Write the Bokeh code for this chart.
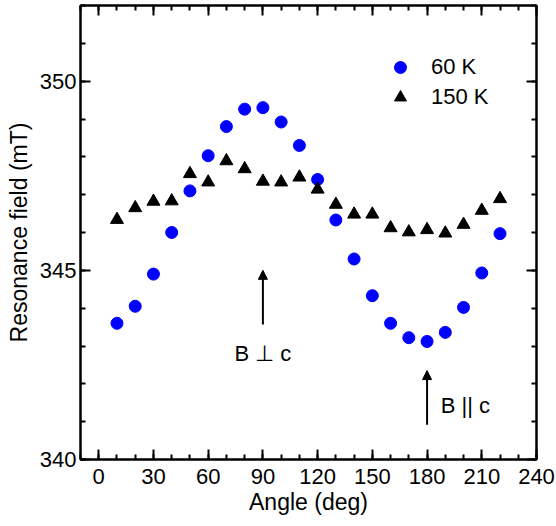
from bokeh.plotting import figure
from bokeh.models import (LinearAxis, SingleIntervalTicker, Range1d, Legend, LegendItem,
                          Arrow, NormalHead, Label, CustomJSTickFormatter)
from bokeh.embed import file_html
from bokeh.resources import INLINE

# ---- data ----
angle = [10, 20, 30, 40, 50, 60, 70, 80, 90, 100, 110, 120, 130, 140, 150,
         160, 170, 180, 190, 200, 210, 220]
field_60K = [343.60, 344.05, 344.90, 346.00, 347.10, 348.03, 348.80, 349.26, 349.30,
             348.92, 348.30, 347.40, 346.33, 345.30, 344.33, 343.60, 343.22, 343.12,
             343.36, 344.02, 344.93, 345.97]
field_150K = [346.34, 346.65, 346.82, 346.83, 347.55, 347.33, 347.89, 347.68, 347.35,
              347.33, 347.46, 347.14, 346.74, 346.48, 346.48, 346.12, 346.01, 346.07,
              345.98, 346.21, 346.58, 346.89]
series_labels = ["60 K", "150 K"]
x_ticks_interval = 30
y_ticks_interval = 5

# annotations
arrow_angle = [90, 180]
arrow_start = [343.57, 340.92]
arrow_end = [345.0, 342.35]
note_text = ["B \u22a5 c", "B || c"]
note_x = [90, 187.5]
note_y = [342.80, 341.43]

FONT = "Liberation Sans"
TICK_FS = "22px"
LABEL_FS = "23px"
TEXT_FS = "22px"

p = figure(width=556, height=524, x_range=Range1d(-10, 240),
           y_range=Range1d(340, 352), output_backend="svg", toolbar_location=None,
           min_border_left=80, min_border_right=20, min_border_top=5, min_border_bottom=65)
p.xgrid.visible = False
p.ygrid.visible = False
p.outline_line_color = "black"
p.outline_line_width = 2
p.background_fill_color = "white"
p.border_fill_color = "white"

p.xaxis.ticker = SingleIntervalTicker(interval=x_ticks_interval, num_minor_ticks=3)
p.yaxis.ticker = SingleIntervalTicker(interval=y_ticks_interval, num_minor_ticks=5)

def style(ax, labels=True):
    ax.axis_line_width = 2
    ax.axis_line_color = "black"
    ax.major_tick_in = 10
    ax.major_tick_out = 0
    ax.minor_tick_in = 5
    ax.minor_tick_out = 0
    ax.major_tick_line_width = 2
    ax.minor_tick_line_width = 2
    ax.major_tick_line_color = "black"
    ax.minor_tick_line_color = "black"
    ax.major_label_text_font = FONT
    ax.major_label_text_font_size = TICK_FS if labels else "1px"
    ax.major_label_text_color = "black"
    ax.axis_label_text_font = FONT
    ax.axis_label_text_font_size = LABEL_FS
    ax.axis_label_text_font_style = "normal"
    ax.axis_label_text_color = "black"

for ax in p.xaxis + p.yaxis:
    style(ax)
p.xaxis.axis_label = "Angle (deg)"
p.yaxis.axis_label = "Resonance field (mT)"
p.xaxis.major_label_standoff = 9
p.xaxis.axis_label_standoff = 2
p.yaxis.major_label_standoff = 4
p.yaxis.axis_label_standoff = 5

blank = CustomJSTickFormatter(code="return '';")
top = LinearAxis(ticker=SingleIntervalTicker(interval=x_ticks_interval, num_minor_ticks=3),
                 formatter=blank)
right = LinearAxis(ticker=SingleIntervalTicker(interval=y_ticks_interval, num_minor_ticks=5),
                   formatter=blank)
for ax in (top, right):
    style(ax, labels=False)
    ax.major_label_standoff = 0
p.add_layout(top, "above")
p.add_layout(right, "right")

r1 = p.scatter(angle, field_60K, marker="circle", size=12, fill_color="#0000ff",
               line_color="#0000ff")
r2 = p.scatter(angle, field_150K, marker="triangle", size=13, fill_color="black",
               line_color="black")

legend = Legend(items=[LegendItem(label=series_labels[0], renderers=[r1]),
                       LegendItem(label=series_labels[1], renderers=[r2])],
                location=(305, 347), orientation="vertical")
legend.glyph_width = 30
legend.glyph_height = 30
legend.spacing = 0
legend.padding = 0
legend.margin = 0
legend.label_standoff = 16
legend.label_text_font = FONT
legend.label_text_font_size = TEXT_FS
legend.label_text_color = "black"
legend.border_line_color = None
legend.background_fill_alpha = 0
p.add_layout(legend)

for i in range(2):
    p.add_layout(Arrow(end=NormalHead(size=9, fill_color="black", line_color="black", line_width=1),
                       x_start=arrow_angle[i], y_start=arrow_start[i],
                       x_end=arrow_angle[i], y_end=arrow_end[i],
                       line_width=2, line_color="black"))

p.add_layout(Label(x=note_x[0], y=note_y[0], text=note_text[0], text_align="center",
                   text_baseline="middle", text_font=FONT, text_font_size=TEXT_FS,
                   text_color="black"))
p.add_layout(Label(x=note_x[1], y=note_y[1], text=note_text[1], text_align="left",
                   text_baseline="middle", text_font=FONT, text_font_size=TEXT_FS,
                   text_color="black"))

open("out.html", "w").write(file_html(p, INLINE))
